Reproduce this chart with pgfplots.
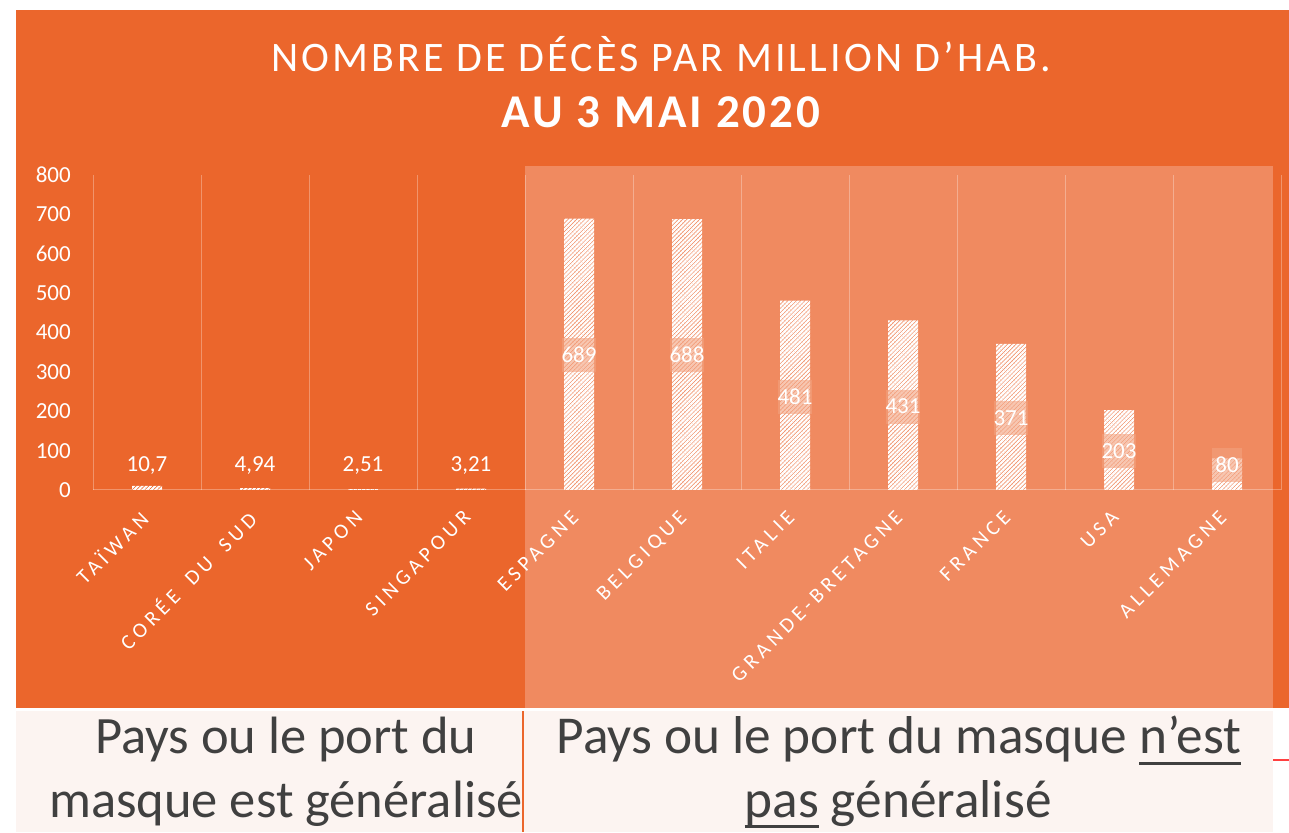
\documentclass[border=0pt]{standalone}
\usepackage{fontspec}
\setmainfont{Carlito}
\usepackage{pgfplots}
\pgfplotsset{compat=1.18}
\usepackage{pgfplotstable}
\usetikzlibrary{patterns.meta}

\newfontfamily\titlefont[LetterSpace=7.5]{Carlito}
\newfontfamily\titleboldfont[LetterSpace=6.5]{Carlito}
\newfontfamily\tickfont[LetterSpace=21, WordSpace=1.8]{Carlito}

\definecolor{bgorange}{HTML}{EB662C}
\definecolor{lightorange}{HTML}{F08A60}
\definecolor{boxorange}{HTML}{F3A27F}
\definecolor{paper}{HTML}{FCF4F1}
\definecolor{ink}{HTML}{404040}

% hand-made underline (ulem is not available)
\newsavebox\ulbox
\newcommand\ul[1]{\sbox\ulbox{#1}\rlap{\rule[-11pt]{\wd\ulbox}{3pt}}\usebox\ulbox}

% countries where mask wearing is widespread
\pgfplotstableread{
x y ly lab
0 10.7 63 10,7
1 4.94 63 4,94
2 2.51 63 2,51
3 3.21 63 3,21
}\maskon

% countries where it is not
\pgfplotstableread{
x y ly lab
4 689 343 689
5 688 343 688
6 481 237 481
7 431 212 431
8 371 182 371
9 203 98 203
10 80 63 80
}\maskoff

\begin{document}
\begin{tikzpicture}[x=1pt,y=1pt]
\useasboundingbox (0,0) rectangle (1289,832);
\fill[white] (0,0) rectangle (1289,832);
\fill[bgorange] (16,124) rectangle (1289,822);
\fill[paper] (16,0) rectangle (1273,121);
\fill[lightorange] (525,124) rectangle (1273,666);
\draw[bgorange, line width=2pt] (523,0) -- (523,121);
\draw[red!75!white, line width=1.2pt] (1273,72) -- (1289,72);

\node[anchor=base, text=white, inner sep=0pt, font=\titlefont\fontsize{42}{42}\selectfont] at (661,760) {NOMBRE DE DÉCÈS PAR MILLION D’HAB.};
\node[anchor=base, text=white, inner sep=0pt, font=\titleboldfont\bfseries\fontsize{47}{47}\selectfont] at (661,704) {AU 3 MAI 2020};

\begin{axis}[
    at={(93pt,342pt)}, anchor=south west,
    scale only axis, width=1188pt, height=315pt,
    xmin=-0.5, xmax=10.5, ymin=0, ymax=800,
    xtick={0,...,10},
    xticklabels={TAÏWAN, CORÉE DU SUD, JAPON, SINGAPOUR, ESPAGNE, BELGIQUE, ITALIE, GRANDE-BRETAGNE, FRANCE, USA, ALLEMAGNE},
    minor xtick={-0.5,0.5,...,10.5},
    xminorgrids,
    minor grid style={white, opacity=0.3, line width=1pt},
    ytick={0,100,...,800},
    axis x line*=bottom, axis y line*=left,
    x axis line style={-, white, opacity=0.3, line width=1pt},
    y axis line style={draw=none},
    major tick length=0pt, minor tick length=0pt,
    /pgf/number format/assume math mode=true,
    yticklabel style={text=white, font=\fontsize{23}{23}\selectfont, anchor=east, inner sep=0pt, xshift=-22pt},
    xticklabel style={text=white, font=\tickfont\fontsize{21}{21}\selectfont, xshift=-9pt, rotate=45, anchor=north east, inner sep=0pt},
    xticklabel shift=19pt,
    clip=false,
]
\addplot[ybar, bar width=30pt, bar shift=0pt, draw=none,
    pattern={Lines[angle=45, distance=3pt, line width=2.2pt]}, pattern color=white]
    table[x=x, y=y] {\maskon};
\addplot[ybar, bar width=30pt, bar shift=0pt, draw=none,
    pattern={Lines[angle=45, distance=3pt, line width=2.2pt]}, pattern color=white]
    table[x=x, y=y] {\maskoff};

\addplot[draw=none, mark=none, point meta=explicit symbolic, nodes near coords,
    every node near coord/.append style={anchor=center, text=white, inner sep=0pt,
        font=\fontsize{23}{23}\selectfont}]
    table[x=x, y=ly, meta=lab] {\maskon};
\addplot[draw=none, mark=none, point meta=explicit symbolic, nodes near coords,
    every node near coord/.append style={anchor=center, text=white, inner sep=0pt,
        fill=boxorange, fill opacity=0.6, text opacity=1,
        minimum width=30pt, minimum height=34pt,
        font=\fontsize{23}{23}\selectfont}]
    table[x=x, y=ly, meta=lab] {\maskoff};
\end{axis}

\node[anchor=base, text=ink, inner sep=0pt, font=\fontsize{52.5}{52.5}\selectfont] at (286,78) {Pays ou le port du};
\node[anchor=base, text=ink, inner sep=0pt, font=\fontsize{52.5}{52.5}\selectfont] at (286,15) {masque est généralisé};
\node[anchor=base, text=ink, inner sep=0pt, font=\fontsize{53.3}{53.3}\selectfont] at (899,78) {Pays ou le port du masque \ul{n’est}};
\node[anchor=base, text=ink, inner sep=0pt, font=\fontsize{53.3}{53.3}\selectfont] at (898,15) {\ul{pas} généralisé};
\end{tikzpicture}
\end{document}
